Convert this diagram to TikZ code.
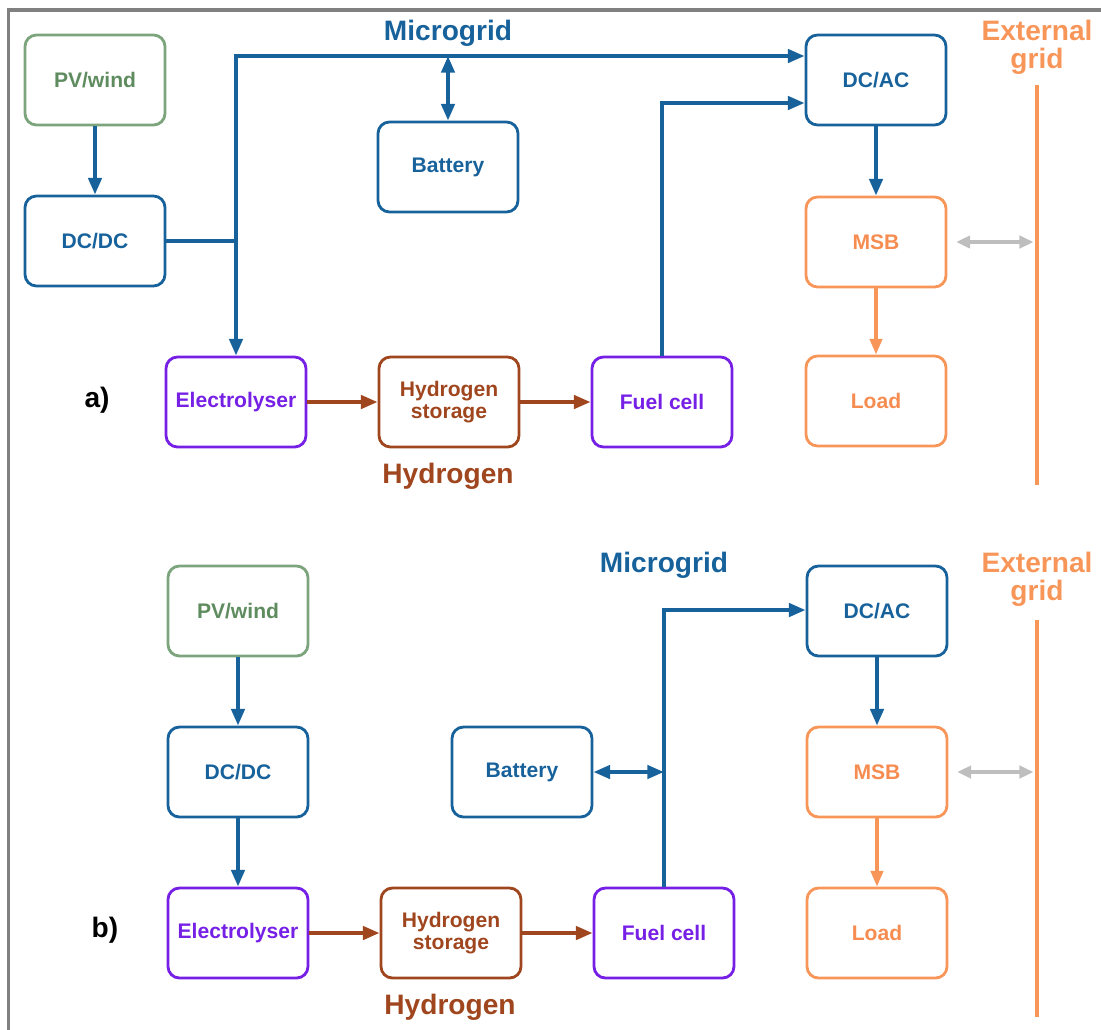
\documentclass[tikz,border=0pt]{standalone}
\usepackage{fontspec}
\setmainfont{Liberation Sans}
\usetikzlibrary{arrows.meta}
\definecolor{mblue}{RGB}{24,98,156}
\definecolor{mgreen}{RGB}{125,165,125}
\definecolor{tgreen}{RGB}{95,140,95}
\definecolor{mpurple}{RGB}{118,32,230}
\definecolor{mbrown}{RGB}{160,70,30}
\definecolor{morange}{RGB}{248,150,90}
\definecolor{torange}{RGB}{246,140,80}
\definecolor{mgray}{RGB}{190,190,190}
\definecolor{fgray}{RGB}{128,128,128}
\begin{document}
\begin{tikzpicture}[x=0.02cm,y=-0.02cm,
  box/.style={draw, line width=1.6pt, rounded corners=6.5pt, minimum width=2.8cm, minimum height=1.8cm, align=center, inner sep=0pt, font=\bfseries\fontsize{12}{12.5}\selectfont},
  bluebox/.style={box, draw=mblue, text=mblue},
  greenbox/.style={box, draw=mgreen, text=tgreen},
  purplebox/.style={box, draw=mpurple, text=mpurple},
  brownbox/.style={box, draw=mbrown, text=mbrown},
  orangebox/.style={box, draw=morange, text=torange},
  bus/.style={draw=mblue, line width=2.2pt},
  busarrow/.style={bus, -{Triangle[length=9.5pt,width=7.5pt]}},
  busdouble/.style={bus, {Triangle[length=9.5pt,width=7.5pt]}-{Triangle[length=9.5pt,width=7.5pt]}},
  h2arrow/.style={draw=mbrown, line width=2.2pt, -{Triangle[length=9.5pt,width=7.5pt]}},
  orarrow/.style={draw=morange, line width=2pt, -{Triangle[length=9pt,width=7pt]}},
  extline/.style={draw=morange, line width=2.6pt},
  grayarrow/.style={draw=mgray, line width=2pt, {Triangle[length=8pt,width=7pt]}-{Triangle[length=8pt,width=7pt]}},
  title/.style={font=\bfseries\fontsize{16}{16}\selectfont, align=center, inner sep=0pt},
]
\useasboundingbox (0,0) rectangle (1101,1029);
\begin{scope}
\clip (0,0) rectangle (1101,1029);
\draw[fgray, line width=1.8pt] (8.7,1040) -- (8.7,10) -- (1110,10);
\end{scope}

% ---------------- panel a ----------------
\node[greenbox]  (pva)   at (95,80)   {PV/wind};
\node[bluebox]   (dcdca) at (95,241)  {DC/DC};
\node[purplebox] (elea)  at (236,402) {Electrolyser};
\node[brownbox]  (h2a)   at (449,402) {Hydrogen\\storage};
\node[purplebox] (fca)   at (662,402) {Fuel cell};
\node[bluebox]   (bata)  at (448,167) {Battery};
\node[bluebox]   (dcaca) at (876,80)  {DC/AC};
\node[orangebox] (msba)  at (876,242) {MSB};
\node[orangebox] (loada) at (876,401) {Load};

\node[title, text=mblue] (mga) at (448,33) {Microgrid};
\node[title, text=morange] (ega) at (1037,47) {External\\grid};
\node[title, text=mbrown] (hya) at (448,476) {Hydrogen};
\node[title, text=black] (la) at (97,400) {a)};

\coordinate (ta) at (236,56);
\coordinate (fa) at (662,103);
\coordinate (ea1) at (1037,85);
\coordinate (ea2) at (1037,485);

\draw[busarrow] (pva.south) -- (dcdca.north);
\draw[bus] (dcdca.east) -- (dcdca.east -| ta);
\draw[busarrow] (ta) -- (elea.north);
\draw[busarrow] ([xshift=-1.1pt]ta) -- (ta -| dcaca.west);
\draw[busdouble] (bata.north) -- (bata.north |- ta);
\draw[busarrow] (fca.north) -- (fa) -- (fa -| dcaca.west);
\draw[busarrow] (dcaca.south) -- (msba.north);
\draw[h2arrow] (elea.east) -- (h2a.west);
\draw[h2arrow] (h2a.east) -- (fca.west);
\draw[orarrow] (msba.south) -- (loada.north);
\draw[extline] (ea1) -- (ea2);
\draw[grayarrow] ([xshift=5pt]msba.east) -- ([xshift=-2pt]msba.east -| ea1);

% ---------------- panel b ----------------
\node[greenbox]  (pvb)   at (238,611) {PV/wind};
\node[bluebox]   (dcdcb) at (238,772) {DC/DC};
\node[purplebox] (eleb)  at (238,933) {Electrolyser};
\node[brownbox]  (h2b)   at (451,933) {Hydrogen\\storage};
\node[purplebox] (fcb)   at (664,933) {Fuel cell};
\node[bluebox]   (batb)  at (522,772) {Battery};
\node[bluebox]   (dcacb) at (877,611) {DC/AC};
\node[orangebox] (msbb)  at (877,772) {MSB};
\node[orangebox] (loadb) at (877,933) {Load};

\node[title, text=mblue] (mgb) at (664,565) {Microgrid};
\node[title, text=morange] (egb) at (1037,579) {External\\grid};
\node[title, text=mbrown] (hyb) at (450,1007) {Hydrogen};
\node[title, text=black] (lb) at (105,930) {b)};

\coordinate (fb) at (664,610);
\coordinate (bb) at (664,772);
\coordinate (eb1) at (1037,620);
\coordinate (eb2) at (1037,1017);

\draw[busarrow] (pvb.south) -- (dcdcb.north);
\draw[busarrow] (dcdcb.south) -- (eleb.north);
\draw[h2arrow] (eleb.east) -- (h2b.west);
\draw[h2arrow] (h2b.east) -- (fcb.west);
\draw[busarrow] (fcb.north) -- (fb) -- (fb -| dcacb.west);
\draw[busdouble] (batb.east) -- (bb);
\draw[busarrow] (dcacb.south) -- (msbb.north);
\draw[orarrow] (msbb.south) -- (loadb.north);
\draw[extline] (eb1) -- (eb2);
\draw[grayarrow] ([xshift=5pt]msbb.east) -- ([xshift=-2pt]msbb.east -| eb1);
\end{tikzpicture}
\end{document}
